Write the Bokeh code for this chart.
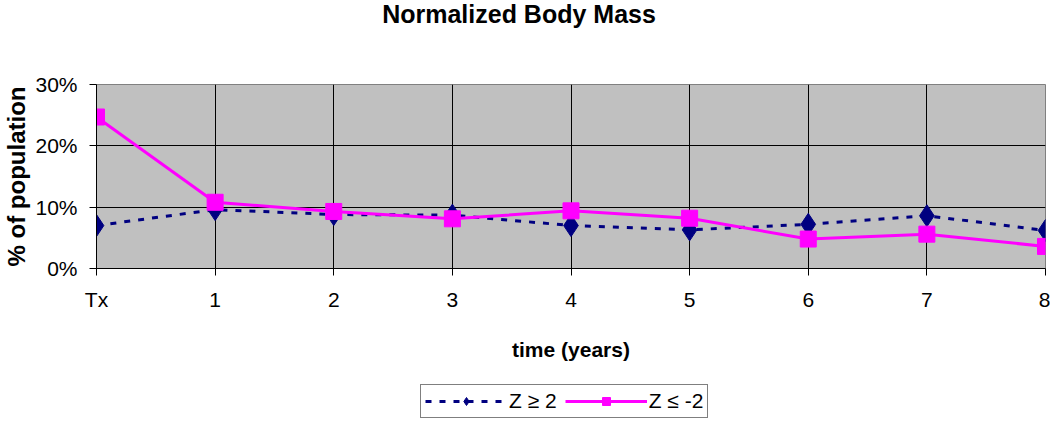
from bokeh.plotting import figure
from bokeh.layouts import column
from bokeh.models import FixedTicker, PrintfTickFormatter, Legend, LegendItem, Range1d
from bokeh.core.properties import value
from bokeh.embed import file_html
from bokeh.resources import INLINE

categories = ["Tx", "1", "2", "3", "4", "5", "6", "7", "8"]
z_high = [7.0, 9.6, 8.8, 8.7, 7.0, 6.3, 7.2, 8.6, 6.2]   # Z >= 2
z_low = [24.7, 10.8, 9.3, 8.1, 9.4, 8.2, 4.8, 5.6, 3.6]  # Z <= -2
y_ticks = [0, 10, 20, 30]
series_labels = ["Z ≥ 2", "Z ≤ -2"]
chart_title = "Normalized Body Mass"

xs = list(range(len(categories)))
navy = "#000080"
pink = "#FF00FF"

# title strip
tf = figure(width=1042, height=34, output_backend="svg", toolbar_location=None,
            x_range=Range1d(0, 1), y_range=Range1d(0, 1),
            x_axis_location=None, y_axis_location=None,
            min_border_left=0, min_border_right=0, min_border_top=0, min_border_bottom=0)
tf.outline_line_color = None
tf.xgrid.visible = False
tf.ygrid.visible = False
tf.text(x=[0.449], y=[0.6], text=[chart_title], text_font=value("Liberation Sans"),
        text_font_size="25px", text_font_style="bold", text_color="black",
        text_align="center", text_baseline="middle")

p = figure(frame_width=949, frame_height=184, output_backend="svg", toolbar_location=None,
           x_range=Range1d(0, len(categories) - 1), y_range=Range1d(0, 30),
           min_border_left=88, min_border_right=5, min_border_top=50, min_border_bottom=110)

p.background_fill_color = "#C0C0C0"
p.border_fill_color = "white"
p.outline_line_color = "#808080"
p.outline_line_width = 1

p.xaxis.ticker = FixedTicker(ticks=xs)
p.xaxis.major_label_overrides = {i: c for i, c in enumerate(categories)}
p.yaxis.ticker = FixedTicker(ticks=y_ticks)
p.yaxis.formatter = PrintfTickFormatter(format="%d%%")

for ax in (p.xaxis, p.yaxis):
    ax.axis_line_color = "black"
    ax.axis_line_width = 1
    ax.major_tick_line_color = "black"
    ax.major_tick_in = 0
    ax.major_tick_out = 7
    ax.minor_tick_line_color = None
    ax.major_label_text_font = "Liberation Sans"
    ax.major_label_text_font_size = "21px"
    ax.major_label_text_color = "black"
    ax.axis_label_text_font = "Liberation Sans"
    ax.axis_label_text_font_style = "bold"
    ax.axis_label_text_color = "black"

p.xaxis.major_label_standoff = 12
p.yaxis.major_label_standoff = 12
p.xaxis.axis_label = "time (years)"
p.xaxis.axis_label_text_font_size = "21px"
p.xaxis.axis_label_standoff = 24
p.yaxis.axis_label = "% of population"
p.yaxis.axis_label_text_font_size = "24px"
p.yaxis.axis_label_standoff = 2

p.xgrid.ticker = FixedTicker(ticks=xs)
p.ygrid.ticker = FixedTicker(ticks=y_ticks)
p.xgrid.grid_line_color = "black"
p.ygrid.grid_line_color = "black"
p.xgrid.grid_line_width = 1
p.ygrid.grid_line_width = 1

p.line(xs, z_high, line_color=navy, line_width=3, line_dash="6 8")
p.scatter(xs, z_high, marker="diamond", size=22, fill_color=navy, line_color=navy)
p.line(xs, z_low, line_color=pink, line_width=3)
p.scatter(xs, z_low, marker="square", size=16, fill_color=pink, line_color=pink)

# legend strip below the chart
lg = figure(width=1042, height=50, output_backend="svg", toolbar_location=None,
            x_range=Range1d(0, 1), y_range=Range1d(0, 1),
            x_axis_location=None, y_axis_location=None,
            min_border_left=0, min_border_right=0, min_border_top=0, min_border_bottom=0)
lg.outline_line_color = None
lg.xgrid.visible = False
lg.ygrid.visible = False
lg1 = lg.line([-10, -9], [-10, -9], line_color=navy, line_width=3, line_dash="6 8")
lm1 = lg.scatter([-10], [-10], marker="diamond", size=16, fill_color=navy, line_color=navy)
lg2 = lg.line([-10, -9], [-10, -9], line_color=pink, line_width=3)
lm2 = lg.scatter([-10], [-10], marker="square", size=13, fill_color=pink, line_color=pink)

legend = Legend(items=[LegendItem(label=series_labels[0], renderers=[lg1, lm1]),
                       LegendItem(label=series_labels[1], renderers=[lg2, lm2])],
                orientation="horizontal", location=(324, 10))
legend.label_text_font = "Liberation Sans"
legend.label_text_font_size = "21px"
legend.label_text_color = "black"
legend.glyph_width = 82
legend.glyph_height = 20
legend.label_standoff = 2
legend.spacing = 8
legend.padding = 4
legend.margin = 0
legend.border_line_color = "black"
legend.border_line_width = 1
legend.background_fill_color = "white"
lg.add_layout(legend, "center")

open("out.html", "w").write(file_html(column(tf, p, lg, spacing=0), INLINE))
